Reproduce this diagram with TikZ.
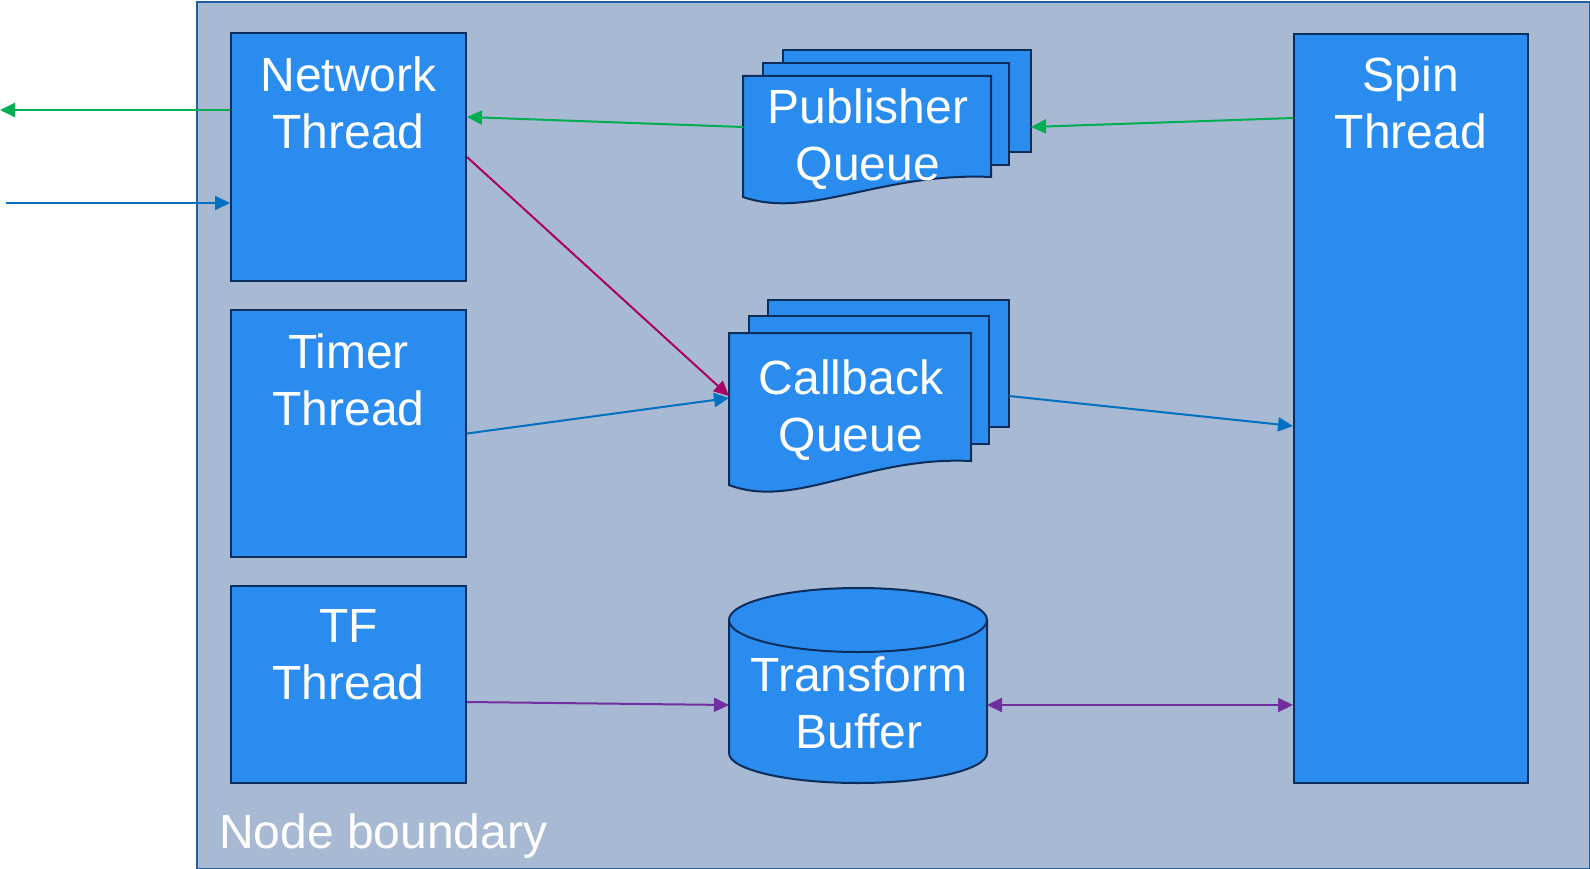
\documentclass[tikz,border=0pt]{standalone}
\usepackage{fontspec}
\setmainfont{Liberation Sans}
\usetikzlibrary{arrows.meta}
\definecolor{bgblue}{RGB}{168,185,211}
\definecolor{boxblue}{RGB}{43,140,240}
\definecolor{navy}{RGB}{10,45,90}
\definecolor{edgeblue}{RGB}{30,95,160}
\definecolor{agreen}{RGB}{0,176,80}
\definecolor{ablue}{RGB}{0,112,192}
\definecolor{amag}{RGB}{170,0,100}
\definecolor{apurple}{RGB}{112,48,160}
\tikzset{
  box/.style={draw=navy,fill=boxblue,line width=2pt,inner sep=0pt,rectangle},
  sheet/.style={draw=navy,fill=boxblue,line width=2pt,line join=miter},
  lbl/.style={text=white,align=center,inner sep=0pt,font=\fontsize{48}{57}\selectfont},
  conn/.style={line width=2pt,-{Triangle[length=15pt,width=14pt]}},
  conn2/.style={line width=2pt,{Triangle[length=15pt,width=14pt]}-{Triangle[length=15pt,width=14pt]}},
}
\begin{document}
\begin{tikzpicture}[x=1pt,y=-1pt]
\useasboundingbox (0,0) rectangle (1590,869);
% node boundary
\node[draw=edgeblue,fill=bgblue,line width=2pt,inner sep=0pt,minimum width=1393pt,minimum height=867pt,anchor=north west] (bound) at (196,1) {};
\node[lbl,anchor=base west] (boundT) at (219,848) {Node boundary};
% threads
\node[box,minimum width=235pt,minimum height=248pt] (net) at (348.5,157) {};
\node[lbl] (netT) at (348.5,103) {Network\\Thread};
\node[box,minimum width=235pt,minimum height=247pt] (timer) at (348.5,433.5) {};
\node[lbl] (timerT) at (348.5,380) {Timer\\Thread};
\node[box,minimum width=235pt,minimum height=197pt] (tf) at (348.5,684.5) {};
\node[lbl] (tfT) at (348.5,655) {TF\\Thread};
\node[box,minimum width=234pt,minimum height=749pt] (spin) at (1411,408.5) {};
\node[lbl] (spinT) at (1411,103) {Spin\\Thread};
% publisher queue
\draw[sheet] (783,50) rectangle (1031,152);
\draw[sheet] (763,63) rectangle (1009,165);
\draw[sheet] (743,76) -- (991,76) -- (991,177) .. controls (880,172) and (810,220) .. (743,197) -- cycle;
\node[lbl] (pqT) at (868,139) {Publisher\\Queue};
\coordinate (pqL) at (743,127);
\coordinate (pqR) at (1031,127);
% callback queue
\draw[sheet] (768,300) rectangle (1009,427);
\draw[sheet] (749,316) rectangle (989,444);
\draw[sheet] (729,333) -- (971,333) -- (971,461) .. controls (865,456) and (795,510) .. (729,485) -- cycle;
\node[lbl] (cqT) at (851,410) {Callback\\Queue};
\coordinate (cqL) at (729,396);
\coordinate (cqR) at (1009,396);
% transform buffer
\draw[sheet] (729,620) -- (729,753) arc[start angle=180,end angle=360,x radius=129pt,y radius=30pt] -- (987,620) -- cycle;
\draw[sheet] (858,620) ellipse[x radius=129pt,y radius=32pt];
\node[lbl] (tbT) at (859,703) {Transform\\Buffer};
\coordinate (tbL) at (729,705);
\coordinate (tbR) at (987,705);
% external ends
\coordinate (extOut) at (0,110);
\coordinate (extIn) at (6,203);
% connectors
\draw[conn,agreen] ([yshift=47pt]net.west) -- (extOut);
\draw[conn,ablue] (extIn) -- ([yshift=-46pt]net.west);
\draw[conn,agreen] (pqL) -- ([yshift=40pt]net.east);
\draw[conn,agreen] ([yshift=290.5pt]spin.west) -- (pqR);
\draw[conn,amag] (net.east) -- (cqL);
\draw[conn,ablue] (timer.east) -- ([yshift=-2pt]cqL);
\draw[conn,ablue] (cqR) -- ([yshift=-17.5pt]spin.west);
\draw[conn,apurple] ([yshift=-17.5pt]tf.east) -- (tbL);
\draw[conn2,apurple] (tbR) -- ([yshift=-296.5pt]spin.west);
\end{tikzpicture}
\end{document}
